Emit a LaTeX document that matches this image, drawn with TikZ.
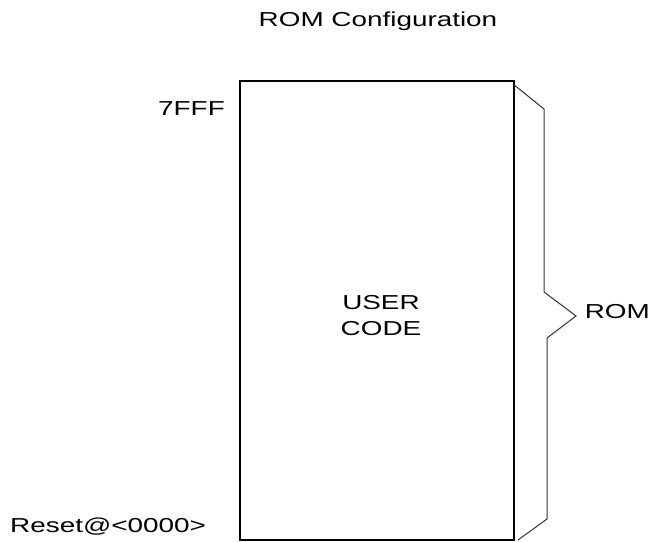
\documentclass[tikz,border=0pt]{standalone}
\usepackage{fontspec}
\setmainfont[FakeStretch=1.38]{Liberation Sans}
\begin{document}
\begin{tikzpicture}[x=1pt,y=-1pt,
  lbl/.style={inner sep=0pt,anchor=base,font=\fontsize{20.2}{24}\selectfont},
  membox/.style={draw=black,line width=2pt},
  bracepath/.style={draw=black!80,line width=1pt,line join=miter}]
\useasboundingbox (0,0) rectangle (653,541);
\node[lbl] (title) at (378,26) {ROM Configuration};
\draw[membox] (240,81) rectangle (514,540);
\coordinate (boxtl) at (240,81);
\coordinate (boxbr) at (514,540);
\node[lbl] (user) at (381,309) {USER};
\node[lbl] (code) at (381,335) {CODE};
\node[lbl,anchor=base east] (top) at (225,115) {7FFF};
\node[lbl,anchor=base west] (reset) at (10,532) {Reset@<0000>};
\node[lbl,anchor=base east] (rom) at (650,318) {ROM};
\draw[bracepath] (513,84) -- (544,109) -- (544,292) -- (576,316) -- (547,338) -- (547,519) -- (518,540);
\end{tikzpicture}
\end{document}
